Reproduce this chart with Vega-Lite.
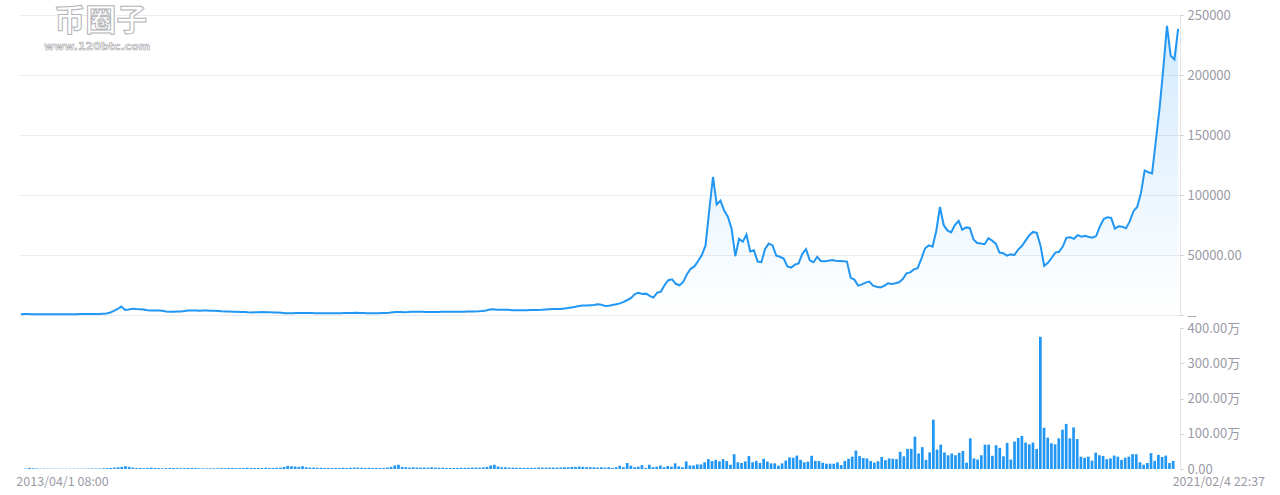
{
"$schema": "https://vega.github.io/schema/vega-lite/v6.json",
"padding": {"left": 15, "top": 6, "right": 0, "bottom": 0},
"background": "#ffffff",
"spacing": 13,
"bounds": "flush",
"config": {
  "view": {"stroke": null},
  "font": "Noto Sans CJK SC",
  "axis": {"labelColor": "#9a9aa6", "labelFontSize": 13, "labelFont": "Noto Sans CJK SC", "title": null, "domainColor": "#e3e3e8", "tickColor": "#c8c8d0", "tickSize": 3, "gridColor": "#ececf0", "labelPadding": 4}
},
"datasets": {"d": [
{"i":0,"p":650,"v":1.5},{"i":1,"p":800,"v":3},{"i":2,"p":750,"v":2},{"i":3,"p":700,"v":1.5},{"i":4,"p":720,"v":1.2},{"i":5,"p":680,"v":1},{"i":6,"p":650,"v":1},{"i":7,"p":620,"v":0.8},{"i":8,"p":610,"v":0.8},{"i":9,"p":600,"v":0.8},
{"i":10,"p":580,"v":0.7},{"i":11,"p":560,"v":0.7},{"i":12,"p":600,"v":0.8},{"i":13,"p":650,"v":0.9},{"i":14,"p":700,"v":1},{"i":15,"p":720,"v":1},{"i":16,"p":740,"v":1},{"i":17,"p":760,"v":1.2},{"i":18,"p":780,"v":1.3},{"i":19,"p":800,"v":1.5},
{"i":20,"p":850,"v":1.5},{"i":21,"p":900,"v":2},{"i":22,"p":1100,"v":2.5},{"i":23,"p":1300,"v":3},{"i":24,"p":2000,"v":4},{"i":25,"p":3500,"v":5},{"i":26,"p":5000,"v":6},{"i":27,"p":7000,"v":8},{"i":28,"p":4200,"v":6},{"i":29,"p":4600,"v":4},
{"i":30,"p":5300,"v":3},{"i":31,"p":5000,"v":3},{"i":32,"p":4800,"v":2.5},{"i":33,"p":4500,"v":3},{"i":34,"p":4000,"v":4},{"i":35,"p":3800,"v":3},{"i":36,"p":3700,"v":2.5},{"i":37,"p":3800,"v":2},{"i":38,"p":3500,"v":2.5},{"i":39,"p":3000,"v":3},
{"i":40,"p":2800,"v":3},{"i":41,"p":2700,"v":2.5},{"i":42,"p":2900,"v":2},{"i":43,"p":3000,"v":2.5},{"i":44,"p":3300,"v":3},{"i":45,"p":3700,"v":3},{"i":46,"p":3800,"v":2.5},{"i":47,"p":3700,"v":2},{"i":48,"p":3600,"v":2},{"i":49,"p":3800,"v":2},
{"i":50,"p":3700,"v":2},{"i":51,"p":3600,"v":2},{"i":52,"p":3500,"v":2},{"i":53,"p":3300,"v":2.5},{"i":54,"p":3100,"v":2.5},{"i":55,"p":3000,"v":3},{"i":56,"p":2900,"v":3},{"i":57,"p":2800,"v":2.5},{"i":58,"p":2700,"v":2.5},{"i":59,"p":2500,"v":3},
{"i":60,"p":2400,"v":3.5},{"i":61,"p":2200,"v":3},{"i":62,"p":2100,"v":3},{"i":63,"p":2200,"v":3},{"i":64,"p":2300,"v":3},{"i":65,"p":2400,"v":3.5},{"i":66,"p":2300,"v":3},{"i":67,"p":2200,"v":3},{"i":68,"p":2100,"v":3.5},{"i":69,"p":2000,"v":4},
{"i":70,"p":1800,"v":6},{"i":71,"p":1500,"v":9},{"i":72,"p":1400,"v":8},{"i":73,"p":1500,"v":7},{"i":74,"p":1600,"v":6},{"i":75,"p":1650,"v":8},{"i":76,"p":1700,"v":5},{"i":77,"p":1650,"v":4},{"i":78,"p":1600,"v":4},{"i":79,"p":1550,"v":3.5},
{"i":80,"p":1500,"v":3.5},{"i":81,"p":1450,"v":3},{"i":82,"p":1500,"v":3},{"i":83,"p":1480,"v":3},{"i":84,"p":1450,"v":3},{"i":85,"p":1500,"v":3},{"i":86,"p":1550,"v":3.5},{"i":87,"p":1600,"v":3},{"i":88,"p":1650,"v":3.5},{"i":89,"p":1750,"v":4},
{"i":90,"p":1800,"v":4},{"i":91,"p":1750,"v":3.5},{"i":92,"p":1650,"v":3},{"i":93,"p":1500,"v":3.5},{"i":94,"p":1450,"v":3},{"i":95,"p":1500,"v":3},{"i":96,"p":1550,"v":3},{"i":97,"p":1600,"v":3},{"i":98,"p":1700,"v":4},{"i":99,"p":1900,"v":6},
{"i":100,"p":2300,"v":10},{"i":101,"p":2600,"v":12},{"i":102,"p":2500,"v":6},{"i":103,"p":2300,"v":5},{"i":104,"p":2400,"v":4},{"i":105,"p":2700,"v":5},{"i":106,"p":2800,"v":4},{"i":107,"p":2750,"v":4},{"i":108,"p":2700,"v":4},{"i":109,"p":2600,"v":4},
{"i":110,"p":2500,"v":5},{"i":111,"p":2550,"v":4},{"i":112,"p":2600,"v":3.5},{"i":113,"p":2700,"v":3.5},{"i":114,"p":2700,"v":3},{"i":115,"p":2700,"v":3},{"i":116,"p":2650,"v":3},{"i":117,"p":2700,"v":3},{"i":118,"p":2750,"v":3.5},{"i":119,"p":2800,"v":3.5},
{"i":120,"p":2850,"v":3.5},{"i":121,"p":2900,"v":4},{"i":122,"p":3000,"v":4},{"i":123,"p":3100,"v":4},{"i":124,"p":3300,"v":4.5},{"i":125,"p":3700,"v":6},{"i":126,"p":4500,"v":10},{"i":127,"p":4800,"v":12},{"i":128,"p":4400,"v":7},{"i":129,"p":4400,"v":5},
{"i":130,"p":4400,"v":5},{"i":131,"p":4300,"v":4},{"i":132,"p":4000,"v":4},{"i":133,"p":3900,"v":3.5},{"i":134,"p":3900,"v":3.5},{"i":135,"p":4000,"v":3.5},{"i":136,"p":4000,"v":3.5},{"i":137,"p":4100,"v":3.5},{"i":138,"p":4200,"v":3.5},{"i":139,"p":4200,"v":4},
{"i":140,"p":4300,"v":4},{"i":141,"p":4500,"v":4},{"i":142,"p":4700,"v":4},{"i":143,"p":4900,"v":4},{"i":144,"p":4900,"v":4},{"i":145,"p":5100,"v":4.5},{"i":146,"p":5400,"v":5},{"i":147,"p":5800,"v":5},{"i":148,"p":6300,"v":6},{"i":149,"p":6800,"v":6},
{"i":150,"p":7500,"v":7},{"i":151,"p":7900,"v":6},{"i":152,"p":8000,"v":5},{"i":153,"p":8200,"v":5},{"i":154,"p":8400,"v":5},{"i":155,"p":8900,"v":4},{"i":156,"p":8600,"v":5},{"i":157,"p":7500,"v":4},{"i":158,"p":7800,"v":5},{"i":159,"p":8300,"v":3},
{"i":160,"p":8900,"v":5},{"i":161,"p":9700,"v":9.4},{"i":162,"p":11000,"v":5},{"i":163,"p":12500,"v":17},{"i":164,"p":14200,"v":9.4},{"i":165,"p":17500,"v":5},{"i":166,"p":18500,"v":6.6},{"i":167,"p":17500,"v":11},{"i":168,"p":17800,"v":3},{"i":169,"p":16000,"v":12},
{"i":170,"p":14500,"v":5},{"i":171,"p":18600,"v":6.6},{"i":172,"p":19500,"v":10},{"i":173,"p":25000,"v":5},{"i":174,"p":29000,"v":8.4},{"i":175,"p":29700,"v":6.6},{"i":176,"p":26000,"v":16},{"i":177,"p":24800,"v":7.5},{"i":178,"p":27500,"v":5},{"i":179,"p":34000,"v":21.6},
{"i":180,"p":38500,"v":10},{"i":181,"p":40500,"v":10},{"i":182,"p":45000,"v":13},{"i":183,"p":50000,"v":13},{"i":184,"p":58000,"v":19},{"i":185,"p":87500,"v":28},{"i":186,"p":115000,"v":22.5},{"i":187,"p":92000,"v":26},{"i":188,"p":95300,"v":21.6},{"i":189,"p":87000,"v":28},
{"i":190,"p":82000,"v":22.5},{"i":191,"p":72000,"v":12},{"i":192,"p":49000,"v":42},{"i":193,"p":63500,"v":19},{"i":194,"p":61000,"v":17},{"i":195,"p":67000,"v":21.6},{"i":196,"p":53000,"v":36.6},{"i":197,"p":54000,"v":19},{"i":198,"p":44500,"v":23},{"i":199,"p":44000,"v":17},
{"i":200,"p":55000,"v":29},{"i":201,"p":59500,"v":21},{"i":202,"p":58000,"v":16},{"i":203,"p":49500,"v":16},{"i":204,"p":48500,"v":9.4},{"i":205,"p":47000,"v":16},{"i":206,"p":40500,"v":24},{"i":207,"p":39500,"v":33},{"i":208,"p":42000,"v":32},{"i":209,"p":43000,"v":38},
{"i":210,"p":51000,"v":26},{"i":211,"p":55000,"v":19},{"i":212,"p":45500,"v":21},{"i":213,"p":44000,"v":37.5},{"i":214,"p":48500,"v":23},{"i":215,"p":45000,"v":22.5},{"i":216,"p":44800,"v":18},{"i":217,"p":45300,"v":15},{"i":218,"p":45800,"v":15},{"i":219,"p":45200,"v":15},
{"i":220,"p":45000,"v":19},{"i":221,"p":44800,"v":11},{"i":222,"p":44500,"v":23},{"i":223,"p":31000,"v":29},{"i":224,"p":29500,"v":35},{"i":225,"p":24500,"v":52.5},{"i":226,"p":25500,"v":36.6},{"i":227,"p":27000,"v":31},{"i":228,"p":27800,"v":30},{"i":229,"p":24500,"v":22.5},
{"i":230,"p":23500,"v":18},{"i":231,"p":23000,"v":22},{"i":232,"p":24200,"v":34},{"i":233,"p":26400,"v":25},{"i":234,"p":25800,"v":30},{"i":235,"p":26500,"v":29},{"i":236,"p":27300,"v":28},{"i":237,"p":30000,"v":49},{"i":238,"p":34700,"v":36},{"i":239,"p":35500,"v":57},
{"i":240,"p":38000,"v":57},{"i":241,"p":39000,"v":92},{"i":242,"p":47000,"v":44},{"i":243,"p":55600,"v":62},{"i":244,"p":58000,"v":26},{"i":245,"p":57000,"v":47},{"i":246,"p":70000,"v":140},{"i":247,"p":90000,"v":55},{"i":248,"p":75000,"v":69},{"i":249,"p":70500,"v":47},
{"i":250,"p":68800,"v":39},{"i":251,"p":75000,"v":44},{"i":252,"p":78500,"v":39},{"i":253,"p":71000,"v":46},{"i":254,"p":73000,"v":51},{"i":255,"p":72500,"v":18},{"i":256,"p":63000,"v":87},{"i":257,"p":60000,"v":30},{"i":258,"p":59500,"v":27},{"i":259,"p":59000,"v":39},
{"i":260,"p":64000,"v":69},{"i":261,"p":62000,"v":69},{"i":262,"p":59500,"v":37.5},{"i":263,"p":52000,"v":67.5},{"i":264,"p":51500,"v":60},{"i":265,"p":49500,"v":36},{"i":266,"p":50500,"v":74},{"i":267,"p":50000,"v":27},{"i":268,"p":54500,"v":78},{"i":269,"p":57500,"v":88},
{"i":270,"p":62000,"v":94},{"i":271,"p":66500,"v":75},{"i":272,"p":69200,"v":70},{"i":273,"p":68500,"v":75},{"i":274,"p":58000,"v":57},{"i":275,"p":41000,"v":375},{"i":276,"p":43500,"v":117},{"i":277,"p":47500,"v":89},{"i":278,"p":52000,"v":73},{"i":279,"p":52700,"v":70},
{"i":280,"p":57000,"v":87},{"i":281,"p":64500,"v":111.5},{"i":282,"p":64800,"v":128},{"i":283,"p":63500,"v":87},{"i":284,"p":66500,"v":118},{"i":285,"p":65200,"v":85},{"i":286,"p":66000,"v":35},{"i":287,"p":65000,"v":32},{"i":288,"p":64500,"v":35},{"i":289,"p":66000,"v":24},
{"i":290,"p":74000,"v":46.5},{"i":291,"p":80000,"v":39},{"i":292,"p":81500,"v":37},{"i":293,"p":81000,"v":28},{"i":294,"p":72000,"v":30},{"i":295,"p":74000,"v":38},{"i":296,"p":73500,"v":35},{"i":297,"p":72300,"v":26},{"i":298,"p":78000,"v":32},{"i":299,"p":86500,"v":35},
{"i":300,"p":90000,"v":42},{"i":301,"p":101500,"v":42},{"i":302,"p":120500,"v":19},{"i":303,"p":119000,"v":12},{"i":304,"p":118000,"v":17},{"i":305,"p":145000,"v":45},{"i":306,"p":172000,"v":23},{"i":307,"p":205000,"v":40},{"i":308,"p":241000,"v":34},{"i":309,"p":216000,"v":38},
{"i":310,"p":213000,"v":17},{"i":311,"p":238500,"v":23}
]},
"vconcat": [
  {
    "width": 1161,
    "height": 300,
    "layer": [
      {
        "data": {"name": "d"},
        "mark": {"type": "area", "interpolate": "linear", "fill": {"gradient": "linear", "x1": 0, "y1": 0, "x2": 0, "y2": 1, "stops": [{"offset": 0, "color": "rgba(33,150,243,0.2)"}, {"offset": 1, "color": "rgba(33,150,243,0.0)"}]}},
        "encoding": {
          "x": {"field": "i", "type": "quantitative", "scale": {"domain": [-0.5, 311.5], "nice": false, "zero": false}, "axis": null},
          "y": {"field": "p", "type": "quantitative", "scale": {"domain": [0, 250000], "nice": false},
                "axis": {"orient": "right", "grid": true, "values": [0, 50000, 100000, 150000, 200000, 250000],
                         "labelExpr": "datum.value == 0 ? '--' : (datum.value == 50000 ? '50000.00' : format(datum.value, 'd'))"}}
        }
      },
      {
        "data": {"name": "d"},
        "mark": {"type": "line", "color": "#2196f3", "strokeWidth": 2, "interpolate": "linear"},
        "encoding": {
          "x": {"field": "i", "type": "quantitative"},
          "y": {"field": "p", "type": "quantitative"}
        }
      },
      {
        "data": {"values": [{"t": "币圈子"}]},
        "mark": {"type": "text", "fontSize": 31, "fontWeight": "bold", "fill": "#ffffff", "stroke": "#b4b4b8", "strokeWidth": 1, "align": "center", "baseline": "middle"},
        "encoding": {
          "x": {"datum": 21.5, "type": "quantitative"},
          "y": {"datum": 244000, "type": "quantitative"},
          "text": {"field": "t"}
        }
      },
      {
        "data": {"values": [{"t": "www.120btc.com"}]},
        "mark": {"type": "text", "fontSize": 11, "fontWeight": "bold", "fill": "#f0f0f0", "stroke": "#a8a8ae", "strokeWidth": 0.6, "align": "center", "baseline": "middle", "font": "DejaVu Sans"},
        "encoding": {
          "x": {"datum": 20.5, "type": "quantitative"},
          "y": {"datum": 223000, "type": "quantitative"},
          "text": {"field": "t"}
        }
      }
    ]
  },
  {
    "width": 1161,
    "height": 141,
    "data": {"name": "d"},
    "mark": {"type": "bar", "color": "#2196f3", "width": 2.7},
    "encoding": {
      "x": {"field": "i", "type": "quantitative", "scale": {"domain": [-0.5, 311.5], "nice": false, "zero": false},
            "axis": {"values": [0, 311], "labelExpr": "datum.value == 0 ? '2013/04/1 08:00' : '2021/02/4 22:37'", "labelAlign": "left",
                     "labelOffset": {"condition": {"test": "datum.value == 0", "value": -10}, "value": -1},
                     "labelFlush": false, "domain": false, "ticks": false, "grid": false, "labelPadding": 6, "labelFontSize": 12.5}},
      "y": {"field": "v", "type": "quantitative", "scale": {"domain": [0, 400], "nice": false},
            "axis": {"orient": "right", "grid": false, "values": [0, 100, 200, 300, 400],
                     "labelExpr": "datum.value == 0 ? '0.00' : format(datum.value, '.2f') + '万'"}}
    }
  }
]
}
